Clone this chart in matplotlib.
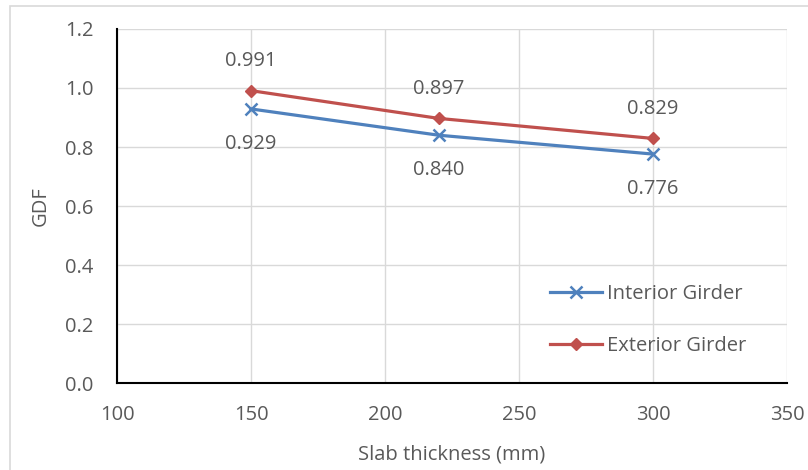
import matplotlib.pyplot as plt
from matplotlib.patches import Rectangle

thickness = [150, 220, 300]
interior = [0.929, 0.840, 0.776]
exterior = [0.991, 0.897, 0.829]

blue = '#4F81BD'
red = '#C0504D'
grey = '#595959'

plt.rcParams['font.family'] = ['Open Sans', 'DejaVu Sans']
plt.rcParams['font.size'] = 14.5

fig = plt.figure(figsize=(8.08, 4.70), dpi=100)
ax = fig.add_axes([0.1448, 0.1851, 0.8292, 0.7532])

# outer chart border
fig.patches.append(Rectangle((10 / 808, -0.01), 1.0, 1 - 6 / 470 + 0.01,
                             transform=fig.transFigure, fill=False,
                             edgecolor='#D9D9D9', linewidth=1.2))

ax.plot(thickness, interior, color=blue, linewidth=2.3, marker='x',
        markersize=8, markeredgewidth=1.8, label='Interior Girder')
ax.plot(thickness, exterior, color=red, linewidth=2.3, marker='D',
        markersize=6, label='Exterior Girder')

for x, y in zip(thickness, exterior):
    ax.annotate(f'{y:.3f}', (x, y), xytext=(0, 21.5), textcoords='offset points',
                ha='center', va='center', color=grey)
for x, y in zip(thickness, interior):
    ax.annotate(f'{y:.3f}', (x, y), xytext=(0, -25), textcoords='offset points',
                ha='center', va='center', color=grey)

ax.set_xlim(100, 350)
ax.set_ylim(0, 1.2)
ax.set_xticks([100, 150, 200, 250, 300, 350])
ax.set_yticks([0, 0.2, 0.4, 0.6, 0.8, 1.0, 1.2])
ax.set_yticklabels([f'{v:.1f}' for v in ax.get_yticks()])
ax.grid(True, color='#D9D9D9', linewidth=1.0)
ax.set_axisbelow(True)
ax.tick_params(length=0, colors=grey)
ax.tick_params(axis='y', pad=17)
ax.tick_params(axis='x', pad=16)

for side in ['top', 'right']:
    ax.spines[side].set_visible(False)
for side in ['left', 'bottom']:
    ax.spines[side].set_color('black')
    ax.spines[side].set_linewidth(1.5)

ax.set_xlabel('Slab thickness (mm)', color=grey, labelpad=14)
ax.set_ylabel('GDF', color=grey, labelpad=10)

ax.legend(loc='center left', bbox_to_anchor=(0.619, 0.178), frameon=False,
          labelcolor=grey, handlelength=2.6, handletextpad=0.25,
          labelspacing=1.55)

fig.savefig('out.png', dpi=100)
